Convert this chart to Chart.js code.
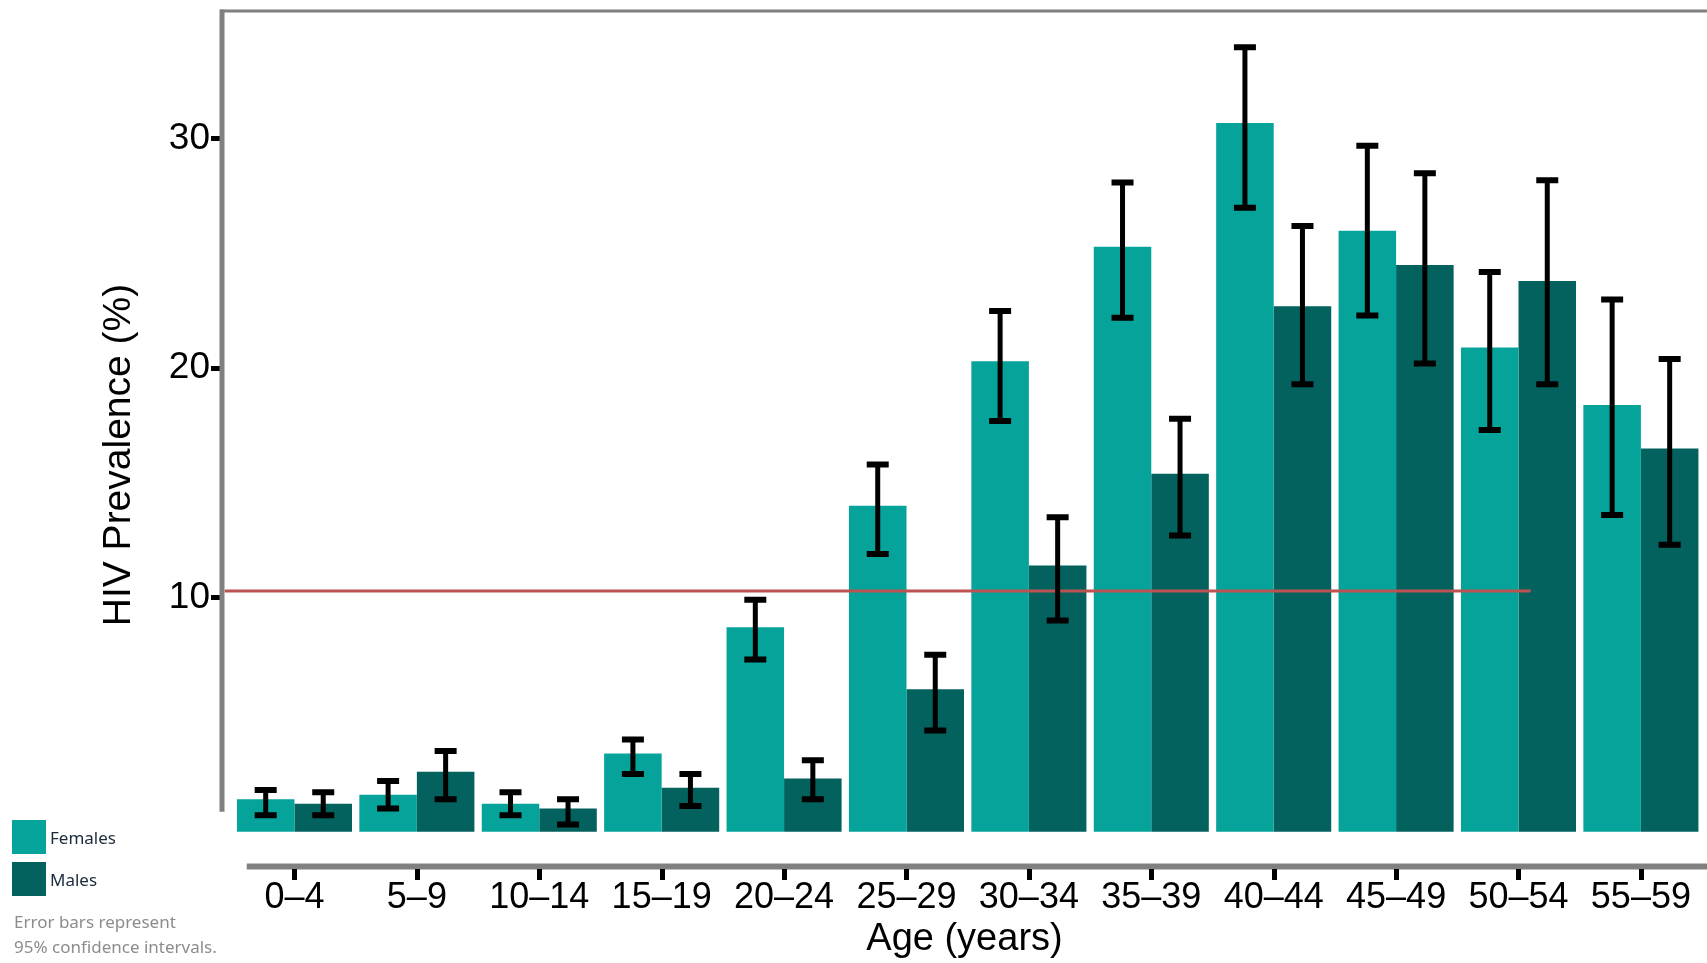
<!DOCTYPE html>
<html>
<head>
<meta charset="utf-8">
<script src="https://cdn.jsdelivr.net/npm/chart.js@4.4.1/dist/chart.umd.min.js"></script>
<style>
  body { margin: 0; background: #fff; }
  #wrap { position: relative; width: 1707px; height: 963px; }
  #legend { position: absolute; left: 12px; top: 820px; font-family: "Noto Sans", sans-serif; font-size: 17px; }
  .item { display: flex; align-items: center; height: 34px; margin-bottom: 8px; }
  .swatch { width: 34px; height: 34px; margin-right: 4px; }
  .item span { color: #1b2a3a; }
  #note { position: absolute; left: 14px; top: 909px; font-family: "Noto Sans", sans-serif; font-size: 17px; line-height: 25px; color: #8c8c8c; }
</style>
</head>
<body>
<div id="wrap">
  <canvas id="grafico"></canvas>
  <div id="legend"></div>
  <div id="note">Error bars represent<br>95% confidence intervals.</div>
</div>
<script>
// Dados
const ageGroups = ["0–4", "5–9", "10–14", "15–19", "20–24", "25–29", "30–34", "35–39", "40–44", "45–49", "50–54", "55–59"];
const femalePrev = [1.2, 1.4, 1.0, 3.2, 8.7, 14.0, 20.3, 25.3, 30.7, 26.0, 20.9, 18.4];
const malePrev = [1.0, 2.4, 0.8, 1.7, 2.1, 6.0, 11.4, 15.4, 22.7, 24.5, 23.8, 16.5];
const femaleLow = [0.5, 0.8, 0.5, 2.3, 7.3, 11.9, 17.7, 22.2, 27.0, 22.3, 17.3, 13.6];
const femaleHigh = [1.6, 2.0, 1.5, 3.8, 9.9, 15.8, 22.5, 28.1, 34.0, 29.7, 24.2, 23.0];
const maleLow = [0.5, 1.2, 0.1, 0.9, 1.2, 4.2, 9.0, 12.7, 19.3, 20.2, 19.3, 12.3];
const maleHigh = [1.5, 3.3, 1.2, 2.3, 2.9, 7.5, 13.5, 17.8, 26.2, 28.5, 28.2, 20.4];
const yTicks = [10, 20, 30];
const refLineValue = 10.28;
const refLineFrom = -0.57;
const refLineTo = 10.1;

const femaleColor = "#05A39A";
const maleColor = "#03615E";

// Legenda em HTML
document.getElementById("legend").innerHTML = [["Females", femaleColor], ["Males", maleColor]]
  .map(([label, color]) => `<div class="item"><div class="swatch" style="background:${color}"></div><span>${label}</span></div>`)
  .join("");

// Moldura do gráfico (eixos no estilo R)
const axisFrame = {
  id: "axisFrame",
  afterDraw(chart) {
    const { ctx, chartArea: a, scales: { x, y } } = chart;
    ctx.save();
    ctx.strokeStyle = "#808080";
    ctx.lineWidth = 3;
    ctx.beginPath();
    ctx.moveTo(a.left - 2, a.top);
    ctx.lineTo(a.right, a.top);
    ctx.stroke();
    ctx.lineWidth = 5;
    ctx.beginPath();
    ctx.moveTo(a.left, a.top - 1.5);
    ctx.lineTo(a.left, y.getPixelForValue(0.65));
    ctx.stroke();
    ctx.lineWidth = 6;
    ctx.beginPath();
    ctx.moveTo(x.getPixelForValue(-0.39), a.bottom);
    ctx.lineTo(a.right, a.bottom);
    ctx.stroke();
    // marcas do eixo x, uma por faixa etária
    ctx.fillStyle = "#000000";
    for (let i = 0; i < ageGroups.length; i++) {
      const px = Math.round(x.getPixelForValue(i));
      ctx.fillRect(px - 2, Math.round(a.bottom) + 2, 5, 11);
    }
    ctx.restore();
  },
};

// Barras de erro (IC 95%)
const errorBars = {
  id: "errorBars",
  afterDatasetsDraw(chart) {
    const { ctx, scales: { y } } = chart;
    ctx.save();
    ctx.strokeStyle = "#000";
    chart.data.datasets.forEach((ds, di) => {
      if (!ds.low) return;
      chart.getDatasetMeta(di).data.forEach((bar, i) => {
        const yl = y.getPixelForValue(ds.low[i]);
        const yh = y.getPixelForValue(ds.high[i]);
        ctx.lineWidth = 5;
        ctx.beginPath();
        ctx.moveTo(bar.x, yl);
        ctx.lineTo(bar.x, yh);
        ctx.stroke();
        ctx.lineWidth = 6;
        ctx.beginPath();
        ctx.moveTo(bar.x - 11, yl);
        ctx.lineTo(bar.x + 11, yl);
        ctx.moveTo(bar.x - 11, yh);
        ctx.lineTo(bar.x + 11, yh);
        ctx.stroke();
      });
    });
    ctx.restore();
  },
};

const ctx = document.getElementById("grafico").getContext("2d");
new Chart(ctx, {
  type: "bar",
  data: {
    datasets: [
      {
        type: "line",
        label: "Reference",
        data: [{ x: refLineFrom, y: refLineValue }, { x: refLineTo, y: refLineValue }],
        borderColor: "#BC5352",
        borderWidth: 3,
        pointRadius: 0,
        order: 0,
      },
      {
        label: "Females",
        data: femalePrev.map((v, i) => ({ x: i, y: v })),
        backgroundColor: femaleColor,
        base: -0.22,
        categoryPercentage: 0.94,
        barPercentage: 1,
        order: 1,
        low: femaleLow,
        high: femaleHigh,
      },
      {
        label: "Males",
        data: malePrev.map((v, i) => ({ x: i, y: v })),
        backgroundColor: maleColor,
        base: -0.22,
        categoryPercentage: 0.94,
        barPercentage: 1,
        order: 1,
        low: maleLow,
        high: maleHigh,
      },
    ],
  },
  options: {
    responsive: true,
    maintainAspectRatio: false,
    animation: false,
    layout: { padding: { top: 11 } },
    plugins: {
      legend: { display: false },
      tooltip: { enabled: false },
    },
    scales: {
      x: {
        type: "linear",
        min: -0.592,
        max: 11.54,
        offset: false,
        border: { display: false },
        grid: { display: false, drawTicks: false },
        ticks: {
          autoSkip: false,
          maxRotation: 0,
          color: "#000",
          padding: 10,
          font: { family: "'Liberation Sans', sans-serif", size: 36 },
          callback: (v) => ageGroups[v],
        },
        afterBuildTicks: (s) => {
          s.ticks = ageGroups.map((g, i) => ({ value: i }));
        },
        afterFit: (s) => {
          s.height = 96.5;
          s.paddingLeft = 0;
          s.paddingRight = 0;
        },
        title: {
          display: true,
          text: "Age (years)",
          color: "#000",
          font: { family: "'Liberation Sans', sans-serif", size: 38, lineHeight: 1 },
          padding: { bottom: 4 },
        },
      },
      y: {
        min: -1.734,
        max: 35.58,
        border: { display: false },
        grid: { drawOnChartArea: false, tickLength: 11, tickWidth: 5, tickColor: "#000" },
        ticks: {
          color: "#000",
          padding: 1,
          font: { family: "'Liberation Sans', sans-serif", size: 37 },
        },
        afterBuildTicks: (s) => {
          s.ticks = yTicks.map((v) => ({ value: v }));
        },
        afterFit: (s) => {
          s.width = 222;
          s.paddingTop = 0;
          s.paddingBottom = 0;
        },
        title: {
          display: true,
          text: "HIV Prevalence (%)   ",
          color: "#000",
          font: { family: "'Liberation Sans', sans-serif", size: 39, lineHeight: 1 },
          padding: { top: 100 },
        },
      },
    },
  },
  plugins: [axisFrame, errorBars],
});
</script>
</body>
</html>
